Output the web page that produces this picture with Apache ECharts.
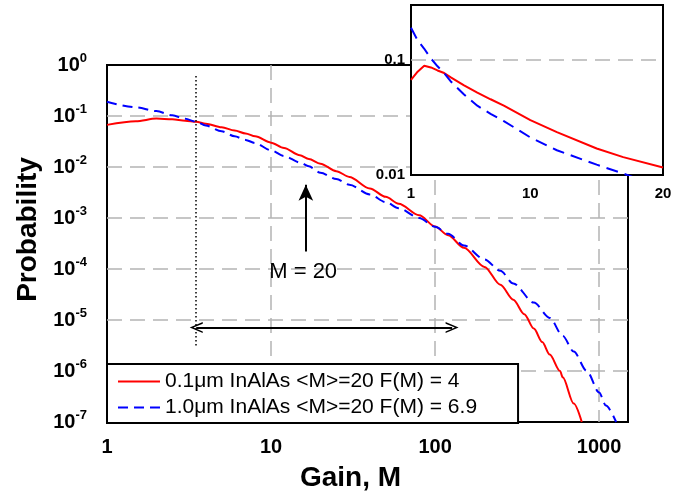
<!DOCTYPE html>
<html>
<head>
<meta charset="utf-8">
<script src="https://cdn.jsdelivr.net/npm/echarts@6/dist/echarts.min.js"></script>
<style>html,body{margin:0;padding:0;background:#fff;}#c{width:686px;height:497px;}</style>
</head>
<body>
<div id="c"></div>
<script>
// ---- data ----
const legendNames = ['0.1\u03bcm InAlAs <M>=20 F(M) = 4', '1.0\u03bcm InAlAs <M>=20 F(M) = 6.9'];
const redM = [1, 1.5, 2, 2.5, 3, 3.5, 4, 5, 6, 7, 8, 10, 12, 15, 17, 20, 25, 30, 40, 50, 60, 80, 100, 120, 150, 200, 250, 300, 350, 400, 450, 500, 578, 600, 700, 784];
const redP = [0.067, 0.079, 0.089, 0.086, 0.081, 0.077, 0.0705, 0.060, 0.052, 0.0455, 0.040, 0.030, 0.0236, 0.0170, 0.0143, 0.0116, 0.0083, 0.0064, 0.0038, 0.0026, 0.0019, 0.00113, 0.00068, 0.00046, 0.00026, 0.00011, 0.000049, 0.000025, 0.000013, 0.0000068, 0.0000037, 0.0000021, 0.000001, 0.00000075, 0.00000023, 0.0000001];
const blueM = [1, 1.5, 2, 2.5, 3, 3.5, 4, 5, 6, 7, 8, 10, 12, 15, 17, 20, 25, 30, 40, 50, 60, 80, 100, 120, 150, 200, 250, 300, 400, 500, 600, 700, 841, 1000, 1100, 1270];
const blueP = [0.19, 0.148, 0.125, 0.103, 0.088, 0.077, 0.065, 0.050, 0.040, 0.034, 0.0294, 0.0212, 0.0164, 0.0123, 0.0103, 0.0077, 0.0058, 0.0045, 0.0029, 0.00205, 0.00156, 0.001, 0.00067, 0.00049, 0.00029, 0.000154, 0.000092, 0.000052, 0.000022, 0.000011, 0.0000049, 0.0000024, 0.000001, 0.00000038, 0.00000021, 0.0000001];
const xTickLabels = ['1', '10', '100', '1000'];
const insetXLabels = [1, 10, 20];
const insetYLabels = ['0.1', '0.01'];
// annotations (data space)
const dottedM = 3.5, dottedTopP = 0.61, dottedBottomP = 3.1e-6;
const spanArrowFromM = 3.5, spanArrowToM = 127, spanArrowP = 7.1e-6;
const upArrowM = 16.3, upArrowFromP = 2.2e-4, upArrowToP = 4.5e-3;
const labelText = 'M = 20', labelM = 15.7, labelP = 8.7e-5;
const insetMaxM = 20;

const zip = (a, b) => a.map((v, i) => [v, b[i]]);
const redData = zip(redM, redP), blueData = zip(blueM, blueP);
const insetRed = redData.filter(d => d[0] <= insetMaxM);
const insetBlue = blueData.filter(d => d[0] <= insetMaxM);

const FONT = 'Liberation Sans, Arial, sans-serif';
const gridLine = { show: true, showMinLine: false, showMaxLine: false, lineStyle: { color: '#b4b4b4', width: 1.5, type: [15, 8] } };
const chevron = 'path://M0,12 L6,0 L12,12 L10.3,12 L6,3.4 L1.7,12 Z';

const chart = echarts.init(document.getElementById('c'), null, { renderer: 'canvas' });
chart.setOption({
  animation: false,
  backgroundColor: '#fff',
  textStyle: { fontFamily: FONT },
  grid: [
    { left: 107, top: 65, width: 521, height: 358, show: true, borderColor: '#000', borderWidth: 2, backgroundColor: '#fff', z: 0 },
    { left: 411, top: 5, width: 252, height: 170, show: true, borderColor: '#000', borderWidth: 2, backgroundColor: '#fff', z: 10 }
  ],
  legend: {
    data: legendNames, orient: 'vertical', left: 107, top: 364,
    backgroundColor: '#fff', borderColor: '#000', borderWidth: 2, borderRadius: 0,
    padding: [7, 41, 5, 10], itemWidth: 42, itemHeight: 22, itemGap: 5,
    itemStyle: { opacity: 0 },
    textStyle: { fontSize: 21, color: '#000', fontFamily: FONT }, z: 6
  },
  xAxis: [
    {
      type: 'log', logBase: 10, gridIndex: 0, min: 1, max: 1500,
      axisLine: { show: false }, axisTick: { show: false }, splitLine: gridLine,
      axisLabel: {
        margin: 15, fontSize: 20, fontWeight: 'bold', color: '#000', fontFamily: FONT,
        formatter: v => { const e = Math.log10(v); const r = Math.round(e); return Math.abs(e - r) < 1e-6 && xTickLabels[r] ? xTickLabels[r] : ''; }
      },
      name: 'Gain, M', nameLocation: 'middle', nameGap: 42,
      nameTextStyle: { fontSize: 28, fontWeight: 'bold', color: '#000', fontFamily: FONT, padding: [0, 34, 0, 0] }
    },
    {
      type: 'value', gridIndex: 1, min: 1, max: insetMaxM, z: 11,
      axisLine: { show: false }, axisTick: { show: false }, splitLine: { show: false },
      axisLabel: { customValues: insetXLabels, margin: 11, fontSize: 15, fontWeight: 'bold', color: '#000', fontFamily: FONT, formatter: v => String(v) }
    }
  ],
  yAxis: [
    {
      type: 'log', logBase: 10, gridIndex: 0, min: 1e-7, max: 1,
      axisLine: { show: false }, axisTick: { show: false }, splitLine: gridLine,
      axisLabel: {
        margin: 20, color: '#000',
        formatter: v => { const e = Math.round(Math.log10(v)); return '{b|10}{s|' + e + '}'; },
        rich: {
          b: { fontSize: 20, fontWeight: 'bold', color: '#000', fontFamily: FONT, lineHeight: 26 },
          s: { fontSize: 13, fontWeight: 'bold', color: '#000', fontFamily: FONT, lineHeight: 13, verticalAlign: 'top' }
        }
      },
      name: 'Probability', nameLocation: 'middle', nameGap: 62,
      nameTextStyle: { fontSize: 28, fontWeight: 'bold', color: '#000', fontFamily: FONT, padding: [0, 0, 0, 28] }
    },
    {
      type: 'log', logBase: 10, gridIndex: 1, min: 0.01, max: 0.3, z: 11,
      axisLine: { show: false }, axisTick: { show: false }, splitLine: gridLine,
      axisLabel: {
        margin: 6, fontSize: 15, fontWeight: 'bold', color: '#000', fontFamily: FONT,
        formatter: v => { const e = Math.log10(v); const r = Math.round(e); if (Math.abs(e - r) > 1e-6) return ''; return r === -1 ? insetYLabels[0] : (r === -2 ? insetYLabels[1] : ''); }
      }
    }
  ],
  series: [
    { name: legendNames[0], type: 'line', xAxisIndex: 0, yAxisIndex: 0, data: redData, symbol: 'none', showSymbol: false, smooth: 0.3, smoothMonotone: 'x', color: '#ff0000', lineStyle: { color: '#ff0000', width: 2 }, z: 3 },
    { name: legendNames[1], type: 'line', xAxisIndex: 0, yAxisIndex: 0, data: blueData, symbol: 'none', showSymbol: false, smooth: 0.3, smoothMonotone: 'x', color: '#0000ff', lineStyle: { color: '#0000ff', width: 2, type: [10, 6] }, z: 3 },
    {
      name: 'annot', type: 'line', xAxisIndex: 0, yAxisIndex: 0, data: [], z: 4,
      markLine: {
        silent: true, animation: false, label: { show: false },
        data: [
          [{ coord: [dottedM, dottedTopP], symbol: 'none', lineStyle: { color: '#000', width: 1.5, type: [1.5, 2.5] } },
           { coord: [dottedM, dottedBottomP], symbol: 'none' }],
          [{ coord: [spanArrowFromM, spanArrowP], symbol: chevron, symbolSize: [11, 13], lineStyle: { color: '#000', width: 1.8, type: 'solid' } },
           { coord: [spanArrowToM, spanArrowP], symbol: chevron, symbolSize: [11, 13] }],
          [{ coord: [upArrowM, upArrowFromP], symbol: 'none', lineStyle: { color: '#000', width: 2, type: 'solid' } },
           { coord: [upArrowM, upArrowToP], symbol: 'arrow', symbolSize: [11, 16] }]
        ]
      },
      markPoint: {
        silent: true, animation: false, symbol: 'circle', symbolSize: 0,
        itemStyle: { color: '#000' },
        label: { show: true, position: 'inside', formatter: labelText, fontSize: 22, color: '#000', opacity: 1, textBorderWidth: 0, fontFamily: FONT },
        data: [{ coord: [labelM, labelP] }]
      }
    },
    {
      name: 'insetRed', type: 'line', xAxisIndex: 1, yAxisIndex: 1, data: insetRed, symbol: 'none', showSymbol: false, lineStyle: { color: '#ff0000', width: 2 }, z: 12,
      markLine: {
        silent: true, symbol: 'none', label: { show: false },
        lineStyle: { color: '#b4b4b4', width: 1.5, type: [15, 8] },
        data: [{ xAxis: 10 }]
      }
    },
    { name: 'insetBlue', type: 'line', xAxisIndex: 1, yAxisIndex: 1, data: insetBlue, symbol: 'none', showSymbol: false, lineStyle: { color: '#0000ff', width: 2, type: [12, 7] }, z: 12 }
  ]
});
</script>
</body>
</html>
